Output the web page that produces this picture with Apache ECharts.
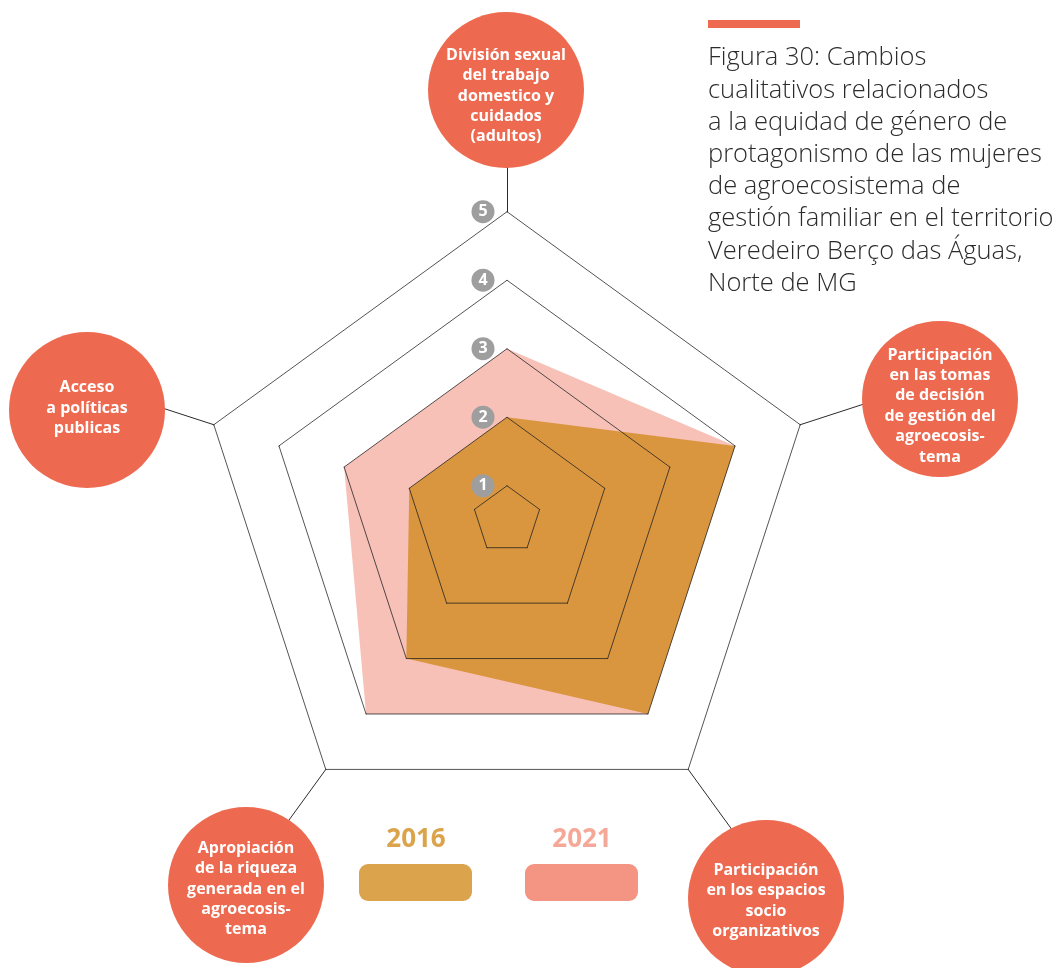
<!DOCTYPE html>
<html>
<head>
<meta charset="utf-8">
<script src="https://cdn.jsdelivr.net/npm/echarts@6/dist/echarts.min.js"></script>
<style>
  html, body { margin: 0; padding: 0; background: #fff; }
  #chart { width: 1061px; height: 968px; }
</style>
</head>
<body>
<div id="chart"></div>
<script>
// indicators, counter-clockwise from the top
const dimensions = [
  'División sexual\ndel trabajo\ndomestico y\ncuidados\n(adultos)',
  'Acceso\na políticas\npublicas',
  'Apropiación\nde la riqueza\ngenerada en el\nagroecosis-\ntema',
  'Participación\nen los espacios\nsocio\norganizativos',
  'Participación\nen las tomas\nde decisión\nde gestión del\nagroecosis-\ntema'
];
const levels = [1, 2, 3, 4, 5];
const values2016 = [2, 2, 3, 4, 4];
const values2021 = [3, 3, 4, 4, 4];
const years = ['2016', '2021'];
const titleText = 'Figura 30: Cambios\ncualitativos relacionados\na la equidad de género de\nprotagonismo de las mujeres\nde agroecosistema de\ngestión familiar en el territorio\nVeredeiro Berço das Águas,\nNorte de MG';

const red = '#ed6a50';
const yearColors = ['#d9963f', '#f7c1b8'];
const legendColors = ['#dba34b', '#f39582'];
const legendText = ['#dba34b', '#f5a898'];
// bubble centres for the axis names and where their text sits (layout only)
const bubbles = [[506, 90], [87, 410], [246, 885], [766, 898], [940, 399]];
const textShift = [6, -2, 4, 3, 7];

const chart = echarts.init(document.getElementById('chart'), null, { renderer: 'canvas' });

const graphics = [{
  type: 'rect', shape: { x: 708, y: 20, width: 92, height: 8 },
  style: { fill: red }, z: 100
}];
dimensions.forEach((d, i) => {
  graphics.push({
    type: 'circle', shape: { cx: bubbles[i][0], cy: bubbles[i][1], r: 78 },
    style: { fill: red }, z: 100
  });
  graphics.push({
    type: 'text', x: bubbles[i][0], y: bubbles[i][1] + textShift[i], z: 101,
    style: {
      text: d, align: 'center', verticalAlign: 'middle', lineHeight: 20.4,
      font: 'bold 16px "Open Sans"', fill: '#fff'
    }
  });
});
years.forEach((y, i) => {
  const x = 359 + i * 166;
  graphics.push({
    type: 'text', x: x + 57, y: 840, z: 100,
    style: {
      text: y, align: 'center', verticalAlign: 'middle',
      font: 'bold 26px "Open Sans"', fill: legendText[i]
    }
  });
  graphics.push({
    type: 'rect', shape: { x: x, y: 864, width: 113, height: 37, r: 9 },
    style: { fill: legendColors[i] }, z: 100
  });
});

const ringLine = 'rgba(30,30,30,0.85)';

chart.setOption({
  animation: false,
  title: {
    text: titleText,
    left: 708,
    top: 42,
    padding: 0,
    textStyle: {
      fontFamily: 'Open Sans', fontWeight: 300, fontSize: 25.5,
      lineHeight: 32.2, color: '#2b2b2b'
    }
  },
  radar: {
    center: [507, 520],
    radius: 390.5,
    shape: 'polygon',
    startAngle: 90,
    splitNumber: 5,
    indicator: dimensions.map(n => ({ name: n, min: 0.5, max: 6.2 })),
    axisName: { show: false },
    axisLine: { lineStyle: { color: '#2a2a2a', width: 1 } },
    axisTick: { show: false },
    axisLabel: { show: false },
    splitLine: { show: false },
    splitArea: { show: false }
  },
  graphic: { elements: graphics },
  series: [
    {
      // white cover for the spokes inside the outer ring
      type: 'radar', silent: true, symbol: 'none',
      lineStyle: { width: 0 },
      areaStyle: { color: '#fff', opacity: 1 },
      data: [{ value: dimensions.map(() => levels[levels.length - 1]) }]
    },
    {
      name: years[1], type: 'radar', silent: true, symbol: 'none',
      lineStyle: { width: 0 },
      areaStyle: { color: yearColors[1], opacity: 1 },
      data: [{ value: values2021 }]
    },
    {
      name: years[0], type: 'radar', silent: true, symbol: 'none',
      lineStyle: { width: 0 },
      areaStyle: { color: yearColors[0], opacity: 1 },
      data: [{ value: values2016 }]
    },
    {
      // level rings with the grey badges on the top axis
      type: 'radar', silent: true,
      symbol: 'circle', symbolSize: 1,
      itemStyle: { color: ringLine },
      lineStyle: { color: ringLine, width: 0.9 },
      label: {
        show: true,
        position: 'left',
        distance: 12,
        formatter: p => p.dimensionIndex === 0 ? '{b|' + p.value + '}' : '',
        rich: {
          b: {
            width: 23, height: 23, lineHeight: 23, borderRadius: 12,
            backgroundColor: '#9e9e9e', color: '#fff', align: 'center',
            fontFamily: 'Open Sans', fontWeight: 'bold', fontSize: 16
          }
        }
      },
      data: levels.map(l => ({ value: dimensions.map(() => l) }))
    }
  ]
});
</script>
</body>
</html>
